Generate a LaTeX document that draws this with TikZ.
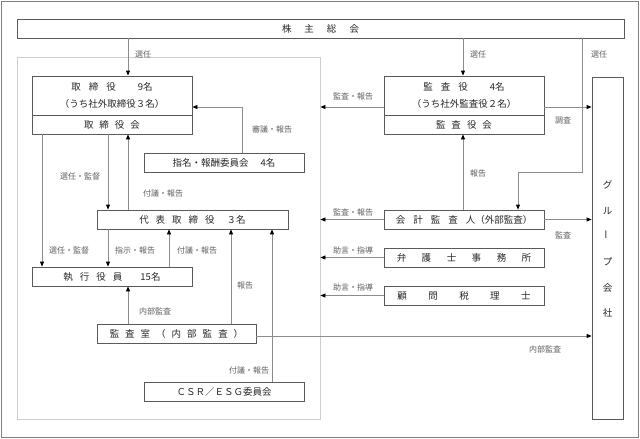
\documentclass[tikz,border=0pt]{standalone}
\usepackage{fontspec}
\usepackage{graphicx}
\setmainfont{Noto Sans CJK JP}
\usetikzlibrary{arrows.meta}
\definecolor{boxgray}{HTML}{5A5A5A}
\definecolor{linegray}{HTML}{8C8C8C}
\definecolor{framegray}{HTML}{CFCFCF}
\definecolor{labgray}{HTML}{5E5E5E}
\newcommand{\gp}[1]{\hspace{#1pt}}
\begin{document}
\begin{tikzpicture}[x=1pt,y=-1pt,
  box/.style={draw=boxgray, line width=0.8pt, minimum height=19pt, inner sep=0pt,
    font=\fontsize{9.5}{11}\selectfont, text=black!85},
  lab/.style={font=\fontsize{8}{9}\selectfont, text=labgray, inner sep=0pt},
  arr/.style={draw=linegray, line width=0.8pt, -{Triangle[length=5pt,width=4pt,color=black]}},
  ln/.style={draw=linegray, line width=0.8pt}]
\useasboundingbox (0,0) rectangle (640,439);
\draw[draw=black!50, line width=1pt] (1,1) rectangle (638.5,437.5);
% frame of the board side
\node[draw=framegray, line width=0.8pt, minimum width=303pt, minimum height=362pt, inner sep=0pt] (frame) at (168.5,238) {};
% nodes
\node[box, minimum width=607pt] (kabu) at (320.5,28.5) {株\gp{13}主\gp{13}総\gp{13}会};
\node[box, minimum width=160pt, minimum height=39pt, align=center,
  font=\fontsize{9.5}{17}\selectfont] (tori) at (112,95.5) {取\gp{8}締\gp{8}役\gp{22}9名\\（うち社外取締役３名）};
\node[box, minimum width=160pt] (torikai) at (112,124.5) {取\gp{6}締\gp{6}役\gp{6}会};
\node[box, minimum width=160pt, minimum height=39pt, align=center,
  font=\fontsize{9.5}{17}\selectfont] (kansa) at (464,95.5) {監\gp{8}査\gp{8}役\gp{22}4名\\（うち社外監査役２名）};
\node[box, minimum width=160pt] (kansakai) at (464,124.5) {監\gp{6}査\gp{6}役\gp{6}会};
\node[box, minimum width=160pt] (shimei) at (224,162.5) {指名・報酬委員会\gp{12}4名};
\node[box, minimum width=191pt] (daihyo) at (192.5,219.5) {代\gp{7}表\gp{7}取\gp{7}締\gp{7}役\gp{12}３名};
\node[box, minimum width=160pt] (shikko) at (112,276.5) {執\gp{7}行\gp{7}役\gp{7}員\gp{18}15名};
\node[box, minimum width=159pt] (kansashitsu) at (176.5,333.5) {監\gp{6}査\gp{6}室\gp{6}（\gp{6}内\gp{6}部\gp{6}監\gp{6}査\gp{6}）};
\node[box, minimum width=160pt] (csr) at (224,391.5) {ＣＳＲ／ＥＳＧ委員会};
\node[box, minimum width=160pt] (kaikei) at (464,219.5) {会\gp{8}計\gp{8}監\gp{8}査\gp{8}人（外部監査）};
\node[box, minimum width=160pt] (bengoshi) at (464,257.5) {弁\gp{15.5}護\gp{15.5}士\gp{15.5}事\gp{15.5}務\gp{15.5}所};
\node[box, minimum width=160pt] (komon) at (464,295.5) {顧\gp{21.5}問\gp{21.5}税\gp{21.5}理\gp{21.5}士};
\node[box, minimum width=31pt, minimum height=342pt] (group) at (607.5,248) {};
\node[font=\fontsize{9.5}{25.6}\selectfont, text=black!85, align=center, inner sep=0pt] (grouptxt) at (607.5,249) {グ\\ル\\\rotatebox{90}{ー}\\プ\\会\\社};
% connectors
\draw[arr] (kabu.south -| 128,0) -- (tori.north -| 128,0);
\draw[arr] (kabu.south -| 463,0) -- (kansa.north -| 463,0);
\draw[arr] (kabu.south -| 582,0) |- (518,172) -- (kaikei.north -| 518,0);
\draw[arr] (shimei.north -| 242,0) |- (tori.east |- 0,107);
\draw[arr] (torikai.south -| 42,0) -- (shikko.north -| 42,0);
\draw[arr] (torikai.south -| 108,0) -- (daihyo.north -| 108,0);
\draw[arr] (daihyo.north -| 128,0) -- (torikai.south -| 128,0);
\draw[arr] (daihyo.south -| 108,0) -- (shikko.north -| 108,0);
\draw[arr] (shikko.north -| 169,0) -- (daihyo.south -| 169,0);
\draw[arr] (kansashitsu.north -| 231,0) -- (daihyo.south -| 231,0);
\draw[arr] (csr.north -| 272,0) -- (daihyo.south -| 272,0);
\draw[arr] (kansashitsu.north -| 128,0) -- (shikko.south -| 128,0);
\draw[arr] (kansashitsu.east |- 0,336) -- (group.west |- 0,336);
\draw[arr] (kansa.west |- 0,107) -- (frame.east |- 0,107);
\draw[arr] (kansa.east |- 0,107) -- (group.west |- 0,107);
\draw[arr] (kaikei.north -| 463,0) -- (kansakai.south -| 463,0);
\draw[arr] (kaikei.west) -- (frame.east |- kaikei.west);
\draw[arr] (kaikei.east) -- (group.west |- kaikei.east);
\draw[arr] (bengoshi.west) -- (frame.east |- bengoshi.west);
\draw[arr] (komon.west) -- (frame.east |- komon.west);
% labels
\node[lab] at (143,54) {選任};
\node[lab] at (478,54) {選任};
\node[lab] at (599,54) {選任};
\node[lab] at (353,96) {監査・報告};
\node[lab] at (563,120) {調査};
\node[lab] at (272,129) {審議・報告};
\node[lab] at (80,176) {選任・監督};
\node[lab] at (163,193) {付議・報告};
\node[lab] at (478,173) {報告};
\node[lab] at (353,212) {監査・報告};
\node[lab] at (563,235) {監査};
\node[lab] at (69,250) {選任・監督};
\node[lab] at (135,250) {指示・報告};
\node[lab] at (197,250) {付議・報告};
\node[lab] at (353,250) {助言・指導};
\node[lab] at (353,287) {助言・指導};
\node[lab] at (245,285) {報告};
\node[lab] at (155,311) {内部監査};
\node[lab] at (545,349) {内部監査};
\node[lab] at (249,370) {付議・報告};
\end{tikzpicture}
\end{document}
